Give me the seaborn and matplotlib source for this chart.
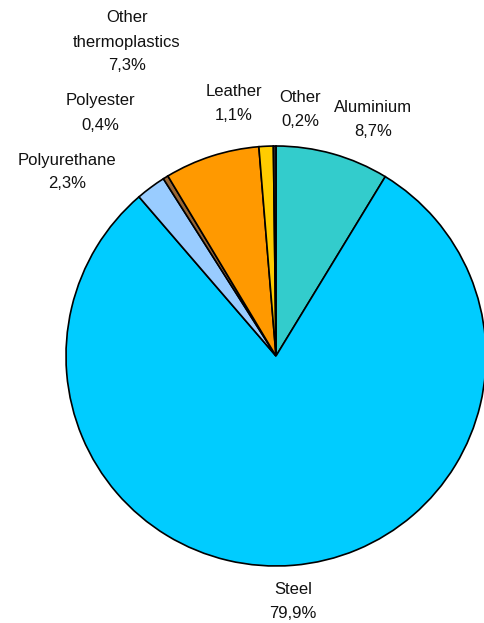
import matplotlib
matplotlib.use("Agg")
import matplotlib.pyplot as plt
import seaborn as sns

sns.set_theme(style="white")
plt.rcParams['font.family'] = ['Liberation Sans', 'DejaVu Sans']

# data, clockwise from 12 o'clock
materials = ["Aluminium", "Steel", "Polyurethane", "Polyester",
             "Other\nthermoplastics", "Leather", "Other"]
shares = [8.7, 79.9, 2.3, 0.4, 7.3, 1.1, 0.2]
colors = ["#33CCCC", "#00CCFF", "#99CCFF", "#996633",
          "#FF9900", "#FFCC00", "#333333"]

# label centres in pixels (x, y from top)
label_px = [(373, 119), (293, 601), (67, 172), (100, 113),
            (127, 42), (234, 103), (300, 109)]

W, H = 485, 623
cx, cy, r = 276, 356, 210

fig = plt.figure(figsize=(W / 100, H / 100), dpi=100)
ax = fig.add_axes([0, 0, 1, 1])

ax.pie(shares, colors=colors, startangle=90, counterclock=False,
       radius=1, center=(0, 0), frame=False,
       wedgeprops=dict(edgecolor="black", linewidth=1.2))

for name, val, (px, py) in zip(materials, shares, label_px):
    txt = f"{name}\n{val:.1f}%".replace(".", ",")
    ax.text((px - cx) / r, (cy - py) / r, txt, ha="center", va="center",
            fontsize=12, color="#111111", linespacing=1.75)

ax.set_xlim(-cx / r, (W - cx) / r)
ax.set_ylim(-(H - cy) / r, cy / r)
ax.set_aspect("equal")
ax.axis("off")

plt.savefig("out.png", dpi=100)
